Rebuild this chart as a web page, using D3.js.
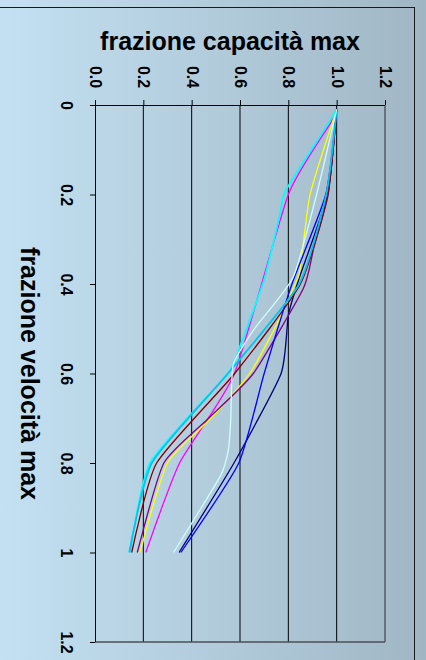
<!DOCTYPE html>
<html>
<head>
<meta charset="utf-8">
<script src="https://cdn.jsdelivr.net/npm/d3@7"></script>
<style>
  html, body { margin: 0; padding: 0; background: #b4cddd; }
  svg { display: block; }
  text { font-family: "Liberation Sans", Arial, Helvetica, sans-serif; font-weight: bold; fill: #000; }
</style>
</head>
<body>
<svg id="chart" width="426" height="660"></svg>
<script>
// Axis ticks
const capacityTicks = [0.0, 0.2, 0.4, 0.6, 0.8, 1.0, 1.2];
const speedTicks = [0, 0.2, 0.4, 0.6, 0.8, 1, 1.2];

// Curves: fraction of max speed (velocità) and matching fraction of max capacity (capacità)
const speedNavy = [0.01, 0.2, 0.39, 0.47, 0.6, 0.8, 1.0];
const capNavy   = [1.0, 0.962, 0.843, 0.80, 0.77, 0.575, 0.348];

const speedMagenta = [0.01, 0.04, 0.2, 0.6, 0.8, 1.0];
const capMagenta   = [1.0, 0.975, 0.80, 0.577, 0.35, 0.21];

const speedYellow = [0.01, 0.2, 0.37, 0.41, 0.484, 0.6, 0.7, 0.8, 1.0];
const capYellow   = [1.0, 0.89, 0.848, 0.82, 0.758, 0.64, 0.48, 0.30, 0.186];

const speedCyan = [0.01, 0.05, 0.19, 0.245, 0.39, 0.54, 0.6, 0.8, 1.0];
const capCyan   = [1.0, 0.955, 0.79, 0.765, 0.70, 0.60, 0.55, 0.228, 0.145];

const speedPurple = [0.01, 0.2, 0.32, 0.41, 0.6, 0.7, 0.8, 1.0];
const capPurple   = [1.0, 0.965, 0.905, 0.862, 0.655, 0.47, 0.285, 0.175];

const speedMaroon = [0.01, 0.2, 0.4, 0.6, 0.8, 1.0];
const capMaroon   = [1.0, 0.963, 0.85, 0.578, 0.255, 0.152];

const speedBlue = [0.01, 0.2, 0.4, 0.6, 0.8, 1.0];
const capBlue   = [1.0, 0.955, 0.815, 0.70, 0.595, 0.355];

const speedSky = [0.01, 0.2, 0.4, 0.6, 0.8, 1.0];
const capSky   = [1.0, 0.957, 0.845, 0.55, 0.235, 0.142];

const speedTurquoise = [0.01, 0.2, 0.385, 0.5, 0.58, 0.7, 0.77, 0.83, 1.0];
const capTurquoise   = [1.0, 0.917, 0.82, 0.66, 0.572, 0.562, 0.552, 0.518, 0.325];

const seriesColors = ["#000080", "#ff00ff", "#ffff00", "#00ffff", "#800080", "#800000", "#0000ff", "#00c4f0", "#ccffff"];
const seriesWidths = [1.3, 1.3, 1.3, 1.8, 1.3, 1.3, 1.3, 1.8, 1.3];

const seriesTable = [
  [speedNavy, capNavy], [speedMagenta, capMagenta], [speedYellow, capYellow],
  [speedCyan, capCyan], [speedPurple, capPurple], [speedMaroon, capMaroon],
  [speedBlue, capBlue], [speedSky, capSky], [speedTurquoise, capTurquoise]
].map(([s, c], i) => ({
  color: seriesColors[i],
  width: seriesWidths[i],
  points: s.map((v, k) => ({ speed: v, cap: c[k] }))
}));

const W = 426, H = 660;
const plot = { left: 95, right: 385, top: 105, bottom: 642 };

const svg = d3.select("#chart");

// Background gradient
const defs = svg.append("defs");
const grad = defs.append("linearGradient").attr("id", "bg").attr("x1", 0).attr("x2", 1).attr("y1", 0).attr("y2", 0);
grad.append("stop").attr("offset", "0%").attr("stop-color", "#c3e1f3");
grad.append("stop").attr("offset", "100%").attr("stop-color", "#a0b6c4");
svg.append("rect").attr("width", W).attr("height", H).attr("fill", "url(#bg)");

// Chart frame
svg.append("rect")
  .attr("x", -10).attr("y", 7.5).attr("width", 424.5).attr("height", 700)
  .attr("fill", "none").attr("stroke", "#1a1a1a").attr("stroke-width", 1);

const x = d3.scaleLinear().domain([0, 1.2]).range([plot.left, plot.right]);
const y = d3.scaleLinear().domain([0, 1.2]).range([plot.top, plot.bottom]);

// Vertical gridlines
svg.append("g").selectAll("line")
  .data(capacityTicks.filter(t => t > 0 && t < 1.2))
  .join("line")
  .attr("x1", d => x(d)).attr("x2", d => x(d))
  .attr("y1", plot.top).attr("y2", plot.bottom)
  .attr("stroke", "#000").attr("stroke-width", 1);

// Plot-area border on the far sides
svg.append("line").attr("x1", x(1.2)).attr("x2", x(1.2)).attr("y1", plot.top).attr("y2", plot.bottom)
  .attr("stroke", "#2a2a2a").attr("stroke-width", 1);
svg.append("line").attr("x1", plot.left).attr("x2", x(1.2)).attr("y1", y(1.2)).attr("y2", y(1.2))
  .attr("stroke", "#4a4f55").attr("stroke-width", 1.3);

// Curves (lightly smoothed)
const line = d3.line()
  .x(d => x(d.cap))
  .y(d => y(d.speed))
  .curve(d3.curveCardinal.tension(0.45));

svg.append("g").selectAll("path")
  .data(seriesTable)
  .join("path")
  .attr("d", d => line(d.points))
  .attr("fill", "none")
  .attr("stroke", d => d.color)
  .attr("stroke-width", d => d.width)
  .attr("stroke-linejoin", "round");

// Top axis (capacità)
const topAxis = d3.axisTop(x).tickValues(capacityTicks).tickSize(5).tickFormat(d3.format(".1f"));
const gTop = svg.append("g").attr("transform", `translate(0,${plot.top})`).call(topAxis);
gTop.select(".domain").attr("d", `M${plot.left - 5},0.5H${plot.right}`).attr("stroke", "#000");
gTop.selectAll(".tick line").attr("stroke", "#000");
gTop.selectAll(".tick text")
  .attr("transform", "translate(0,-28) rotate(90)")
  .attr("x", 0).attr("y", 0).attr("dy", null)
  .attr("text-anchor", "middle").attr("dominant-baseline", "central")
  .style("font-size", "16px").style("font-weight", "bold")
  .style("font-family", '"Liberation Sans", Arial, sans-serif');

// Left axis (velocità)
const leftAxis = d3.axisLeft(y).tickValues(speedTicks).tickSize(5).tickFormat(d => String(d));
const gLeft = svg.append("g").attr("transform", `translate(${plot.left},0)`).call(leftAxis);
gLeft.select(".domain").attr("d", `M0.5,${plot.top - 5}V${plot.bottom}`).attr("stroke", "#000");
gLeft.selectAll(".tick line").attr("stroke", "#000");
gLeft.selectAll(".tick text")
  .attr("transform", "translate(-29,0) rotate(90)")
  .attr("x", 0).attr("y", 0).attr("dy", null)
  .attr("text-anchor", "middle").attr("dominant-baseline", "central")
  .style("font-size", "16px").style("font-weight", "bold")
  .style("font-family", '"Liberation Sans", Arial, sans-serif');

// Axis titles
svg.append("text")
  .attr("x", 230).attr("y", 50)
  .attr("text-anchor", "middle")
  .style("font-size", "25px")
  .text("frazione capacità max");

svg.append("text")
  .attr("transform", `translate(30,${(plot.top + plot.bottom) / 2}) rotate(90)`)
  .attr("text-anchor", "middle").attr("dominant-baseline", "central")
  .style("font-size", "25px")
  .text("frazione velocità max");
</script>
</body>
</html>
